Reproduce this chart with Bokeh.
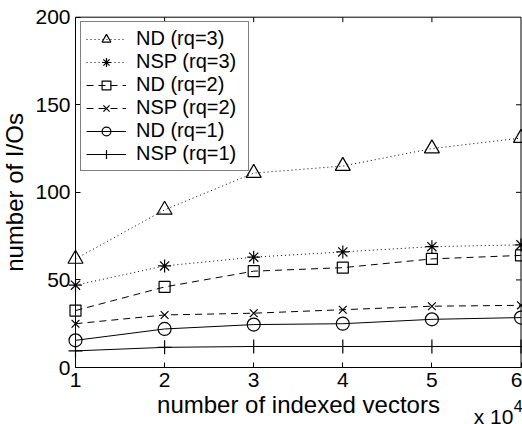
import math
from bokeh.plotting import figure
from bokeh.models import FixedTicker, Label, Range1d
from bokeh.embed import file_html
from bokeh.resources import INLINE

# data (x in units of 10^4 indexed vectors)
x_vals = [1, 2, 3, 4, 5, 6]
nd_rq3 = [62, 90, 111, 115, 125, 131]
nsp_rq3 = [47, 58, 63, 66, 69, 70]
nd_rq2 = [32.5, 46, 55, 57, 62, 64]
nsp_rq2 = [25, 30, 31, 33, 35, 35.5]
nd_rq1 = [15.5, 22, 24.5, 25, 27.5, 28.5]
nsp_rq1 = [9.5, 11.5, 12, 12, 12, 12]
x_ticks = [1, 2, 3, 4, 5, 6]
y_ticks = [0, 50, 100, 150, 200]

FONT = "Liberation Sans"

# layout (pixels of the canvas): where the axes box sits
W, H = 522, 424
BOX_L, BOX_R, BOX_T, BOX_B = 75.0, 520.5, 16.7, 367.0
xs = (BOX_R - BOX_L) / (x_ticks[-1] - x_ticks[0])
ys = (BOX_B - BOX_T) / (y_ticks[-1] - y_ticks[0])
x_range = Range1d(x_ticks[0] - BOX_L / xs, x_ticks[-1] + (W - BOX_R) / xs)
y_range = Range1d(y_ticks[0] - (H - BOX_B) / ys, y_ticks[-1] + BOX_T / ys)

p = figure(width=W, height=H, output_backend="svg", toolbar_location=None,
           x_range=x_range, y_range=y_range,
           min_border_left=0, min_border_right=0, min_border_top=0, min_border_bottom=0)
p.background_fill_color = "white"
p.border_fill_color = "white"
p.outline_line_color = None
p.grid.visible = False

for ax in (p.xaxis[0], p.yaxis[0]):
    ax.major_tick_in = 5
    ax.major_tick_out = 0
    ax.minor_tick_line_color = None
    ax.axis_line_color = "black"
    ax.major_tick_line_color = "black"
    ax.major_label_text_font = FONT
    ax.major_label_text_font_size = "21px"
    ax.major_label_text_color = "black"
    ax.axis_label_text_font = FONT
    ax.axis_label_text_font_size = "24px"
    ax.axis_label_text_font_style = "normal"
    ax.axis_label_text_color = "black"

p.xaxis[0].ticker = FixedTicker(ticks=x_ticks)
p.yaxis[0].ticker = FixedTicker(ticks=y_ticks)
p.xaxis[0].bounds = (x_ticks[0], x_ticks[-1])
p.yaxis[0].bounds = (y_ticks[0], y_ticks[-1])
p.xaxis[0].fixed_location = y_ticks[0]
p.yaxis[0].fixed_location = x_ticks[0]
p.xaxis[0].axis_label = "number of indexed vectors"
p.yaxis[0].axis_label = "number of I/Os"
p.xaxis[0].major_label_standoff = 5
p.yaxis[0].major_label_standoff = 5
p.xaxis[0].axis_label_standoff = 1
p.yaxis[0].axis_label_standoff = 4

# top and right edges of the box, with inward ticks
p.segment(x0=[x_ticks[0]], y0=[y_ticks[-1]], x1=[x_ticks[-1]], y1=[y_ticks[-1]],
          line_color="black", line_width=1)
p.segment(x0=[x_ticks[-1]], y0=[y_ticks[0]], x1=[x_ticks[-1]], y1=[y_ticks[-1]],
          line_color="black", line_width=1)
p.ray(x=x_ticks[1:-1], y=[y_ticks[-1]] * (len(x_ticks) - 2), length=5, length_units="screen",
      angle=-math.pi / 2, line_color="black", line_width=1)
p.ray(x=[x_ticks[-1]] * (len(y_ticks) - 2), y=y_ticks[1:-1], length=5, length_units="screen",
      angle=math.pi, line_color="black", line_width=1)

series = [
    ("ND (rq=3)", nd_rq3, "1 3", "triangle", 15),
    ("NSP (rq=3)", nsp_rq3, "1 3", "asterisk", 13),
    ("ND (rq=2)", nd_rq2, "7 5", "square", 11),
    ("NSP (rq=2)", nsp_rq2, "7 5", "x", 11),
    ("ND (rq=1)", nd_rq1, "solid", "circle", 13),
    ("NSP (rq=1)", nsp_rq1, "solid", "cross", 14),
]
for name, vals, dash, marker, size in series:
    p.line(x_vals, vals, line_color="black", line_width=1, line_dash=dash, legend_label=name)
    p.scatter(x_vals, vals, marker=marker, size=size, line_color="black", line_width=1.2,
              fill_color=None, legend_label=name)

lg = p.legend[0]
lg.location = (80, 253)
lg.margin = 0
lg.padding = 5
lg.spacing = 0
lg.label_height = 22
lg.glyph_height = 22
lg.glyph_width = 40
lg.label_width = 107
lg.label_standoff = 10
lg.label_text_font = FONT
lg.label_text_font_size = "20px"
lg.label_text_color = "black"
lg.border_line_color = "black"
lg.border_line_width = 1.5
lg.background_fill_alpha = 1

p.add_layout(Label(x=5.47, y=-28, text="x 10", text_font=FONT, text_font_size="21px",
                   text_color="black", text_baseline="middle"))
p.add_layout(Label(x=5.92, y=-21.7, text="4", text_font=FONT, text_font_size="16px",
                   text_color="black", text_baseline="middle"))

open("out.html", "w").write(file_html(p, INLINE))
